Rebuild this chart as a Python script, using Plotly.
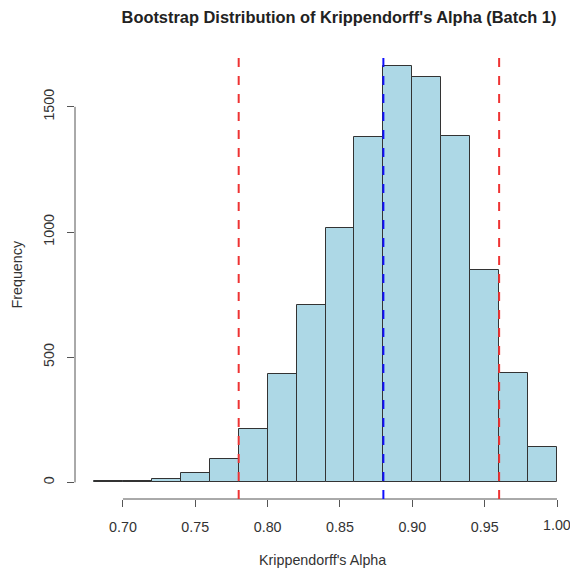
import plotly.graph_objects as go

# Histogram data (bin edges and counts)
bin_edges = [0.68, 0.70, 0.72, 0.74, 0.76, 0.78, 0.80, 0.82, 0.84, 0.86,
             0.88, 0.90, 0.92, 0.94, 0.96, 0.98, 1.00]
counts = [4, 7, 15, 39, 92, 215, 433, 708, 1016, 1378,
          1662, 1618, 1385, 848, 437, 141]
ci_lower = 0.78
ci_upper = 0.96
point_estimate = 0.88

x_ticks = [0.70, 0.75, 0.80, 0.85, 0.90, 0.95, 1.00]
x_ticklabels = ["0.70", "0.75", "0.80", "0.85", "0.90", "0.95", "1.00"]
y_ticks = [0, 500, 1000, 1500]

centers = [(a + b) / 2 for a, b in zip(bin_edges[:-1], bin_edges[1:])]
widths = [b - a for a, b in zip(bin_edges[:-1], bin_edges[1:])]

fig = go.Figure()
fig.add_trace(go.Bar(
    x=centers, y=counts, width=widths,
    marker=dict(color="#ADD8E6", line=dict(color="#333333", width=1)),
    hoverinfo="x+y",
))

axis_col = "#555555"
line_dash_red = dict(color="#EE3333", width=2, dash="dash")
line_dash_blue = dict(color="#1010FF", width=2, dash="dash")

shapes = [
    # R-style axis lines spanning ticks only
    dict(type="line", xref="x", yref="paper", x0=x_ticks[0], x1=x_ticks[-1], y0=0, y1=0,
         line=dict(color=axis_col, width=1)),
    dict(type="line", xref="paper", yref="y", x0=0, x1=0, y0=y_ticks[0], y1=y_ticks[-1],
         line=dict(color=axis_col, width=1)),
    dict(type="line", xref="x", yref="paper", x0=ci_lower, x1=ci_lower, y0=0, y1=1, line=line_dash_red),
    dict(type="line", xref="x", yref="paper", x0=ci_upper, x1=ci_upper, y0=0, y1=1, line=line_dash_red),
    dict(type="line", xref="x", yref="paper", x0=point_estimate, x1=point_estimate, y0=0, y1=1, line=line_dash_blue),
]

font_family = "Liberation Sans, Arial, sans-serif"
tick_size = 14.3
plot_h = 449

# Plotly hides tick labels that overflow the page; draw the last one as an
# annotation so it is clipped at the page edge like the original.
shown_ticktext = x_ticklabels[:-1] + [""]
annotations = [
    dict(text=x_ticklabels[-1], xref="x", yref="paper", x=x_ticks[-1],
         y=-26 / plot_h, xanchor="center", yanchor="middle", showarrow=False,
         font=dict(size=tick_size, color="#333333")),
    dict(text="Krippendorff's Alpha", xref="paper", yref="paper",
         x=0.5, y=-61 / plot_h, xanchor="center", yanchor="middle", showarrow=False,
         font=dict(size=tick_size, color="#333333")),
    dict(text="Frequency", xref="paper", yref="paper", textangle=-90,
         x=-59 / 495, y=0.5, xanchor="center", yanchor="middle", showarrow=False,
         font=dict(size=tick_size, color="#333333")),
]

fig.update_layout(
    width=570, height=570,
    margin=dict(l=75, r=0, t=50, b=71),
    paper_bgcolor="white", plot_bgcolor="white",
    showlegend=False,
    bargap=0,
    font=dict(family=font_family, size=tick_size, color="#333333"),
    title=dict(text="<b>Bootstrap Distribution of Krippendorff's Alpha (Batch 1)</b>",
               xref="container", yref="container", x=339 / 570, y=1 - 17 / 570,
               xanchor="center", yanchor="middle",
               font=dict(size=16.4, color="#222222", family=font_family)),
    xaxis=dict(range=[0.66687, 1.00898], tickvals=x_ticks, ticktext=shown_ticktext,
               ticks="outside", ticklen=7, tickcolor=axis_col, showgrid=False,
               zeroline=False, showline=False, ticklabelstandoff=8,
               tickfont=dict(size=tick_size, color="#333333")),
    yaxis=dict(range=[-66.4, 1727], tickvals=y_ticks, ticks="outside", ticklen=7,
               tickcolor=axis_col, showgrid=False, zeroline=False, showline=False,
               tickangle=-90, ticklabelstandoff=7,
               tickfont=dict(size=tick_size, color="#333333")),
    shapes=shapes,
    annotations=annotations,
)

fig.write_html("out.html")
